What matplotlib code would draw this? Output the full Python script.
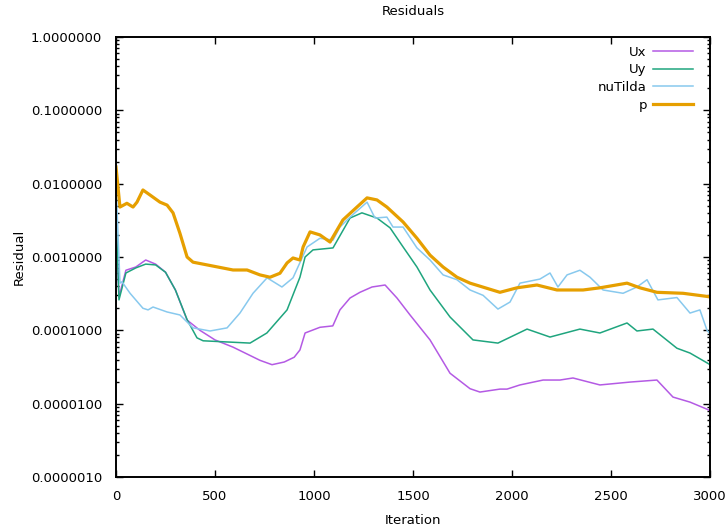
import numpy as np
import matplotlib
matplotlib.use('Agg')
from matplotlib import pyplot as plt
from matplotlib.ticker import LogLocator, NullFormatter, FormatStrFormatter

# residual histories
ux_it = [0, 15, 50, 100, 150, 200, 250, 300, 359, 424, 500, 591, 727, 788, 850, 900, 929, 955,
         1030, 1095, 1131, 1182, 1232, 1293, 1359, 1419, 1485, 1586, 1687, 1788, 1838, 1939,
         1975, 2040, 2157, 2242, 2308, 2444, 2596, 2732, 2813, 2899, 2985, 3000]
ux = [3.0e-3, 2.85e-4, 6.6e-4, 7.3e-4, 9.1e-4, 8.0e-4, 6.2e-4, 3.55e-4, 1.38e-4, 1.0e-4, 7.4e-5,
      5.9e-5, 3.9e-5, 3.4e-5, 3.7e-5, 4.3e-5, 5.4e-5, 9.2e-5, 1.1e-4, 1.15e-4, 1.9e-4, 2.76e-4,
      3.3e-4, 3.9e-4, 4.15e-4, 2.76e-4, 1.62e-4, 7.4e-5, 2.6e-5, 1.6e-5, 1.44e-5, 1.58e-5,
      1.58e-5, 1.8e-5, 2.1e-5, 2.1e-5, 2.24e-5, 1.8e-5, 1.97e-5, 2.1e-5, 1.23e-5, 1.05e-5,
      8.4e-6, 8.0e-6]

uy_it = [0, 15, 50, 100, 150, 200, 250, 300, 360, 409, 440, 677, 762, 864, 929, 955, 995, 1096,
         1182, 1242, 1318, 1384, 1450, 1520, 1586, 1687, 1803, 1929, 2076, 2192, 2343, 2444,
         2581, 2631, 2712, 2833, 2899, 2985, 3000]
uy = [4.0e-3, 2.6e-4, 6.05e-4, 7.1e-4, 8.0e-4, 7.8e-4, 6.2e-4, 3.55e-4, 1.38e-4, 7.9e-5, 7.2e-5,
      6.7e-5, 9.2e-5, 1.9e-4, 5.3e-4, 1.0e-3, 1.25e-3, 1.33e-3, 3.4e-3, 4.0e-3, 3.4e-3, 2.5e-3,
      1.37e-3, 7.3e-4, 3.55e-4, 1.52e-4, 7.4e-5, 6.7e-5, 1.04e-4, 8.1e-5, 1.04e-4, 9.2e-5,
      1.26e-4, 9.8e-5, 1.04e-4, 5.7e-5, 4.9e-5, 3.6e-5, 3.4e-5]

nut_it = [0, 20, 30, 71, 136, 162, 187, 258, 323, 389,
          475, 561, 626, 692, 763, 838, 894, 965, 1030, 1096,
          1131, 1182, 1268, 1308, 1368, 1399, 1450, 1520, 1586, 1621,
          1652, 1722, 1788, 1854, 1929, 1990, 2040, 2141, 2192, 2232,
          2278, 2343, 2394, 2460, 2561, 2631, 2682, 2737, 2833, 2899,
          2949, 2985, 3000]
nut = [1.0e-2, 4.4e-4, 4.6e-4, 3.2e-4, 2.0e-4, 1.9e-4, 2.08e-4, 1.78e-4, 1.62e-4, 1.08e-4,
       9.8e-5, 1.08e-4, 1.72e-4, 3.2e-4, 5.2e-4, 3.9e-4, 5.2e-4, 1.37e-3, 1.8e-3, 1.7e-3,
       2.56e-3, 3.5e-3, 5.6e-3, 3.4e-3, 3.5e-3, 2.56e-3, 2.56e-3, 1.33e-3, 9.1e-4, 7.1e-4,
       5.7e-4, 4.9e-4, 3.55e-4, 3.0e-4, 1.95e-4, 2.43e-4, 4.4e-4, 5.0e-4, 6.05e-4, 3.9e-4,
       5.7e-4, 6.6e-4, 5.3e-4, 3.55e-4, 3.2e-4, 3.9e-4, 4.9e-4, 2.6e-4, 2.8e-4, 1.72e-4,
       1.9e-4, 1.0e-4, 9.0e-5]

p_it = [0, 20, 55, 86, 106, 136, 172, 222, 258, 288, 323, 359, 389, 460, 591, 662, 727, 778, 828,
        864, 894, 929, 945, 980, 1030, 1081, 1146, 1217, 1268, 1318, 1368, 1450, 1520, 1586,
        1652, 1722, 1788, 1939, 2025, 2126, 2227, 2359, 2444, 2581, 2646, 2732, 2864, 2985, 3000]
p = [1.69e-2, 4.8e-3, 5.4e-3, 4.8e-3, 5.6e-3, 8.2e-3, 7.0e-3, 5.6e-3, 5.1e-3, 4.0e-3, 2.1e-3,
     1.0e-3, 8.5e-4, 7.8e-4, 6.65e-4, 6.65e-4, 5.7e-4, 5.3e-4, 6.0e-4, 8.3e-4, 9.7e-4, 9.1e-4,
     1.37e-3, 2.2e-3, 2.0e-3, 1.6e-3, 3.2e-3, 4.8e-3, 6.4e-3, 6.0e-3, 4.8e-3, 3.0e-3, 1.8e-3,
     1.06e-3, 7.3e-4, 5.3e-4, 4.4e-4, 3.3e-4, 3.8e-4, 4.15e-4, 3.55e-4, 3.55e-4, 3.8e-4,
     4.4e-4, 3.8e-4, 3.3e-4, 3.2e-4, 2.9e-4, 2.85e-4]

plt.rcParams['font.family'] = 'DejaVu Sans'
plt.rcParams['font.size'] = 9.5

f = plt.figure(figsize=(7.28, 5.29), dpi=100)
a = f.add_axes([116/728, 52/529, 594/728, 440/529])

a.plot(ux_it, ux, color='#b45ae4', lw=1.1, label='Ux')
a.plot(uy_it, uy, color='#1fa57e', lw=1.1, label='Uy')
a.plot(nut_it, nut, color='#88c9ee', lw=1.1, label='nuTilda')
a.plot(p_it, p, color='#e69f00', lw=2.3, label='p')

a.set_yscale('log')
a.set_xlim(0, 3000)
a.set_ylim(1e-6, 1)
a.set_xticks([0, 500, 1000, 1500, 2000, 2500, 3000])
a.yaxis.set_major_locator(LogLocator(base=10, numticks=10))
a.yaxis.set_minor_locator(LogLocator(base=10, subs=np.arange(2, 10), numticks=10))
a.yaxis.set_minor_formatter(NullFormatter())
a.yaxis.set_major_formatter(FormatStrFormatter('%.7f'))

a.tick_params(which='both', direction='in', top=True, right=True, width=1)
a.tick_params(which='major', length=5)
a.tick_params(which='minor', length=2.5)
a.tick_params(axis='y', pad=10)
a.tick_params(axis='x', pad=9)
for s in a.spines.values():
    s.set_linewidth(1.4)

a.set_title('Residuals', fontsize=9.5, pad=16)
a.set_xlabel('Iteration', labelpad=8)
a.set_ylabel('Residual', labelpad=4)

a.legend(loc='upper right', bbox_to_anchor=(0.978, 0.989), frameon=False, markerfirst=False,
         handlelength=3.0, handletextpad=0.5, labelspacing=0.35, borderaxespad=0.0,
         borderpad=0.3)

plt.savefig('out.png', dpi=100)
